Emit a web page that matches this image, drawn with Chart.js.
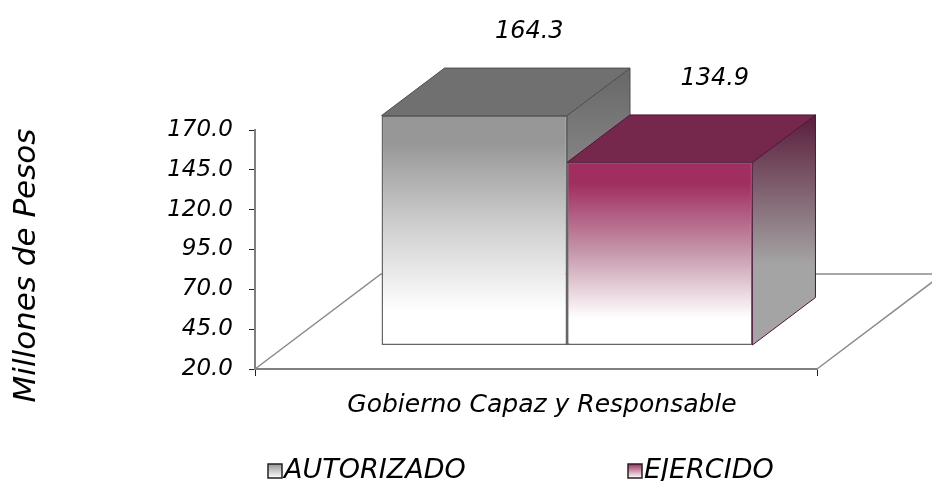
<!DOCTYPE html>
<html lang="es">
<head>
<meta charset="utf-8">
<title>Gobierno Capaz y Responsable</title>
<script src="https://cdn.jsdelivr.net/npm/chart.js"></script>
<style>
  html, body { margin: 0; padding: 0; background: #fff; }
  #wrap { width: 932px; height: 481px; position: relative; }
</style>
</head>
<body>
<div id="wrap"><canvas id="chart"></canvas></div>
<script>
// Datos
const categorias = ['Gobierno Capaz y Responsable'];
const autorizado = [164.3];
const ejercido = [134.9];
const series = ['AUTORIZADO', 'EJERCIDO'];
const tituloY = 'Millones de Pesos';
const yMin = 20;
const yMax = 170;
const yPaso = 25;

// Efecto 3D (desplazamientos en px)
const FRENTE = { x: 31, y: -23.5 };  // plano frontal de las barras
const FONDO = { x: 63, y: -47.5 };   // profundidad de cada barra
const PISO = { x: 126, y: -95 };     // profundidad del piso

// Leyenda dibujada a mano
const LEYENDA = { y: 471, x: [268, 628], caja: 14 };

const FAMILIA = '"DejaVu Sans", sans-serif';
const fuente = (size) => ({ family: FAMILIA, style: 'italic', size });

const estilos = [
  { frente: ['#979797', '#d2d2d2', '#ffffff'], tapa: '#707070', lado: ['#676767', '#9d9d9d'], borde: '#4f4f4f' },
  { frente: ['#a02f60', '#c79aad', '#ffffff'], tapa: '#75284b', lado: ['#5a1d3b', '#a4a4a4'], borde: '#52143a' },
];

// degradado vertical de la cara frontal
function degradadoFrente(colores) {
  return (c) => {
    const y = c.chart.scales.y;
    if (!y || !c.chart.chartArea || typeof c.raw !== 'number') return colores[1];
    const arriba = y.getPixelForValue(c.raw);
    const base = y.getPixelForValue(yMin);
    if (!isFinite(arriba) || !isFinite(base)) return colores[1];
    const g = c.chart.ctx.createLinearGradient(0, arriba, 0, base);
    g.addColorStop(0, colores[0]);
    g.addColorStop(0.12, colores[0]);
    g.addColorStop(0.5, colores[1]);
    g.addColorStop(0.85, colores[2]);
    g.addColorStop(1, colores[2]);
    return g;
  };
}

function poligono(ctx, puntos, relleno, borde) {
  ctx.beginPath();
  puntos.forEach(([x, y], i) => (i ? ctx.lineTo(x, y) : ctx.moveTo(x, y)));
  ctx.closePath();
  ctx.fillStyle = relleno;
  ctx.fill();
  ctx.strokeStyle = borde;
  ctx.lineWidth = 1;
  ctx.stroke();
}

// Piso, caras laterales/superiores, etiquetas, título y leyenda
const barras3d = {
  id: 'barras3d',
  beforeDatasetsDraw(chart) {
    const { ctx, chartArea: a } = chart;
    ctx.save();
    ctx.strokeStyle = '#8a8a8a';
    ctx.lineWidth = 1.5;
    ctx.beginPath();
    ctx.moveTo(a.left, a.bottom);
    ctx.lineTo(a.left + PISO.x, a.bottom + PISO.y);
    ctx.lineTo(a.right + PISO.x, a.bottom + PISO.y);
    ctx.lineTo(a.right, a.bottom);
    ctx.stroke();

    chart.data.datasets.forEach((ds, i) => {
      const est = estilos[i];
      chart.getDatasetMeta(i).data.forEach((bar) => {
        const izq = bar.x - bar.width / 2 + FRENTE.x;
        const der = bar.x + bar.width / 2 + FRENTE.x;
        const arriba = bar.y + FRENTE.y;
        const abajo = bar.base + FRENTE.y;
        const lado = ctx.createLinearGradient(0, arriba + FONDO.y, 0, abajo);
        lado.addColorStop(0, est.lado[0]);
        lado.addColorStop(0.65, est.lado[1]);
        lado.addColorStop(1, est.lado[1]);
        poligono(ctx, [[der, arriba], [der + FONDO.x, arriba + FONDO.y],
          [der + FONDO.x, abajo + FONDO.y], [der, abajo]], lado, est.borde);
        poligono(ctx, [[izq, arriba], [der, arriba],
          [der + FONDO.x, arriba + FONDO.y], [izq + FONDO.x, arriba + FONDO.y]], est.tapa, est.borde);
      });
    });
    ctx.restore();

    // las caras frontales las dibuja Chart.js, desplazadas al plano frontal
    ctx.save();
    ctx.translate(FRENTE.x, FRENTE.y);
  },
  afterDatasetsDraw(chart) {
    const { ctx } = chart;
    ctx.restore();

    ctx.save();
    ctx.font = 'italic 24px ' + FAMILIA;
    ctx.fillStyle = '#000';
    ctx.textAlign = 'center';
    ctx.textBaseline = 'middle';
    chart.data.datasets.forEach((ds, i) => {
      chart.getDatasetMeta(i).data.forEach((bar, j) => {
        ctx.fillText(ds.data[j].toFixed(1),
          bar.x + FRENTE.x + FONDO.x - 8, bar.y + FRENTE.y + FONDO.y - 36);
      });
    });
    ctx.restore();
  },
  afterDraw(chart) {
    const { ctx, chartArea: a } = chart;
    ctx.save();
    ctx.fillStyle = '#000';

    // título del eje Y
    ctx.translate(27, (a.top + a.bottom) / 2 + 16);
    ctx.rotate(-Math.PI / 2);
    ctx.font = 'italic 31px ' + FAMILIA;
    ctx.textAlign = 'center';
    ctx.textBaseline = 'middle';
    ctx.fillText(tituloY, 0, 0);
    ctx.setTransform(1, 0, 0, 1, 0, 0);

    // leyenda
    ctx.font = 'italic 27px ' + FAMILIA;
    ctx.textAlign = 'left';
    chart.data.datasets.forEach((ds, i) => {
      const x = LEYENDA.x[i];
      const y = LEYENDA.y - LEYENDA.caja / 2;
      const g = ctx.createLinearGradient(0, y, 0, y + LEYENDA.caja);
      g.addColorStop(0, estilos[i].frente[0]);
      g.addColorStop(1, estilos[i].frente[2]);
      ctx.fillStyle = g;
      ctx.fillRect(x, y, LEYENDA.caja, LEYENDA.caja);
      ctx.strokeStyle = '#222';
      ctx.lineWidth = 1.5;
      ctx.strokeRect(x, y, LEYENDA.caja, LEYENDA.caja);
      ctx.fillStyle = '#000';
      ctx.fillText(ds.label, x + LEYENDA.caja + 2, LEYENDA.y);
    });
    ctx.restore();
  },
};

const data = {
  labels: categorias,
  datasets: [
    {
      label: series[0],
      data: autorizado,
      base: yMin,
      backgroundColor: degradadoFrente(estilos[0].frente),
      borderColor: '#666666',
      borderWidth: 1.5,
      borderSkipped: false,
      clip: false,
    },
    {
      label: series[1],
      data: ejercido,
      base: yMin,
      backgroundColor: degradadoFrente(estilos[1].frente),
      borderColor: '#666666',
      borderWidth: 1.5,
      borderSkipped: false,
      clip: false,
    },
  ],
};

const options = {
  responsive: true,
  maintainAspectRatio: false,
  animation: false,
  categoryPercentage: 0.66,
  barPercentage: 1,
  layout: { padding: { top: 130, right: 115, bottom: 0, left: 0 } },
  plugins: {
    legend: { display: false },
    tooltip: { enabled: false },
  },
  scales: {
    x: {
      offset: true,
      grid: { offset: true, drawOnChartArea: false, tickLength: 7, tickColor: '#222' },
      border: { color: '#808080', width: 2 },
      ticks: { font: fuente(25), color: '#000', padding: 14, labelOffset: 6, maxRotation: 0 },
      afterFit: (s) => { s.height = 112; },
    },
    y: {
      min: yMin,
      max: yMax,
      grid: { drawOnChartArea: false, tickLength: 6, tickColor: '#222' },
      border: { color: '#808080', width: 2 },
      ticks: {
        stepSize: yPaso,
        font: fuente(23),
        color: '#000',
        padding: 16,
        callback: (v) => Number(v).toFixed(1),
      },
      afterFit: (s) => { s.width = 255; },
    },
  },
};

new Chart(document.getElementById('chart'), { type: 'bar', data, options, plugins: [barras3d] });
</script>
</body>
</html>
